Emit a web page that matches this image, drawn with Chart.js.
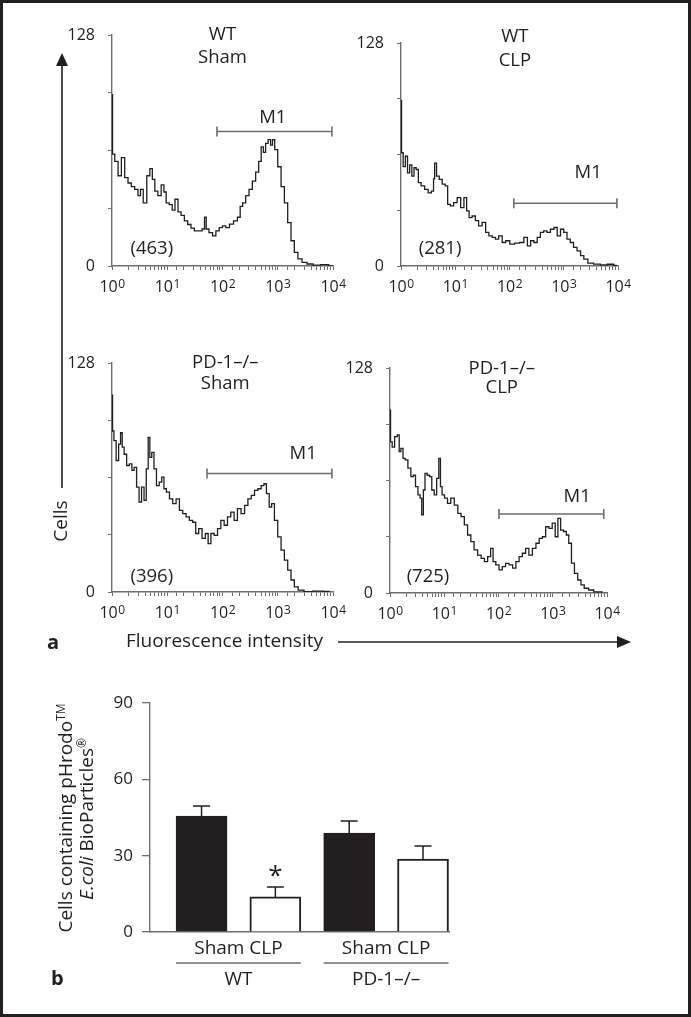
<!DOCTYPE html>
<html>
<head>
<meta charset="utf-8">
<script src="https://cdn.jsdelivr.net/npm/chart.js@4.4.1/dist/chart.umd.min.js"></script>
<style>
  body { margin: 0; background: #fff; font-family: "Open Sans", "Noto Sans", sans-serif; color: #231f20; }
  #frame { position: absolute; left: 0; top: 0; width: 691px; height: 1017px; border: 3px solid #231f20; box-sizing: border-box; }
  canvas { position: absolute; }
  .lbl { position: absolute; font-size: 19px; white-space: nowrap; line-height: 1; }
  .rot { transform: translate(-50%, -50%) rotate(-90deg); }
  .bold { font-weight: bold; font-size: 20px; }
  svg { position: absolute; left: 0; top: 0; }
</style>
</head>
<body>
<div id="frame"></div>
<canvas id="h1"></canvas>
<canvas id="h2"></canvas>
<canvas id="h3"></canvas>
<canvas id="h4"></canvas>
<canvas id="bars"></canvas>

<svg width="691" height="1017">
  <line x1="62" y1="64" x2="62" y2="488" stroke="#231f20" stroke-width="1.6"/>
  <polygon points="62,53 56,66 68,66" fill="#231f20"/>
  <line x1="338" y1="642" x2="620" y2="642" stroke="#231f20" stroke-width="1.6"/>
  <polygon points="631,642 617,636 617,648" fill="#231f20"/>
</svg>

<div class="lbl rot" style="left:60px; top:521px;">Cells</div>
<div class="lbl" style="left:126px; top:631px;">Fluorescence intensity</div>
<div class="lbl bold" style="left:47px; top:632px;">a</div>
<div class="lbl bold" style="left:51px; top:968px;">b</div>
<div class="lbl rot" style="left:65px; top:818px;">Cells containing pHrodo<sup style="font-size:12px">TM</sup></div>
<div class="lbl rot" style="left:86px; top:819px;"><i>E.coli</i> BioParticles<sup style="font-size:12px">®</sup></div>

<script>
// histogram values: [decade (log10 intensity), cells]
const wtSham = [[0,95],[0.02,62],[0.08,58],[0.14,50],[0.2,60],[0.26,49],[0.32,46],[0.38,44],[0.44,42.5],[0.5,39],[0.53,42.5],[0.6,35],[0.66,50],[0.71,54],[0.75,48],[0.8,41.5],[0.86,39],[0.92,45],[0.96,41],[1.0,35],[1.07,34],[1.11,31],[1.17,37],[1.22,30],[1.28,28],[1.34,25],[1.4,23],[1.46,21],[1.52,19.5],[1.6,19.5],[1.66,20.5],[1.69,27],[1.72,20.5],[1.79,18.5],[1.85,16.7],[1.91,19.5],[1.97,21.3],[2.03,22.2],[2.09,21.3],[2.16,23.2],[2.24,25],[2.3,27],[2.34,33],[2.39,35],[2.45,39],[2.51,42.5],[2.57,47],[2.63,52],[2.68,58],[2.72,66],[2.76,63],[2.8,68],[2.85,70],[2.89,67],[2.92,70],[2.97,64.5],[3.03,55],[3.09,44],[3.15,35],[3.21,24],[3.27,14],[3.33,7.6],[3.4,3.9],[3.48,2],[3.58,1.1],[3.7,0.5],[3.85,0.8],[4.0,0]];
const wtClp = [[0,95],[0.02,65],[0.06,57],[0.1,63],[0.14,53.5],[0.18,58],[0.22,51.6],[0.26,56.4],[0.3,55.4],[0.34,47.8],[0.4,46],[0.47,44],[0.53,42],[0.59,43],[0.61,50],[0.63,59],[0.68,51.6],[0.73,49.7],[0.79,47],[0.84,46],[0.88,35.4],[0.94,34.5],[1.0,36.4],[1.07,39.3],[1.13,33.5],[1.19,39.3],[1.23,31.6],[1.28,27.8],[1.34,28.7],[1.4,26],[1.46,23],[1.53,25],[1.59,19.3],[1.65,17.3],[1.71,16.4],[1.77,15.4],[1.83,17.3],[1.9,13.5],[1.96,14.5],[2.05,12.6],[2.14,13.1],[2.23,13.5],[2.3,16.4],[2.36,11.6],[2.42,14.5],[2.48,13.5],[2.54,16.4],[2.6,19.3],[2.66,20.2],[2.72,19.3],[2.79,21.1],[2.85,22.1],[2.91,17.3],[2.97,21.1],[3.03,19.3],[3.09,15.4],[3.15,13.5],[3.21,10.7],[3.28,8.7],[3.34,5.9],[3.4,4],[3.49,1.7],[3.61,1.1],[3.74,0.6],[3.86,1],[3.98,0.3]];
const pd1Sham = [[0,110],[0.02,90],[0.05,84.6],[0.1,73.5],[0.14,82.7],[0.17,89],[0.2,81],[0.24,77],[0.29,70.7],[0.34,71.6],[0.38,68],[0.42,69.7],[0.47,58.6],[0.51,50.3],[0.56,58.6],[0.6,51.2],[0.64,68.8],[0.67,86.4],[0.7,75.3],[0.74,78],[0.78,68.8],[0.83,59.5],[0.88,61.4],[0.92,64.2],[0.96,57.7],[1.01,55.8],[1.07,52],[1.13,49.4],[1.19,52],[1.25,45.6],[1.31,43.8],[1.37,42],[1.43,40],[1.49,39],[1.54,32.7],[1.6,35.4],[1.66,30],[1.72,32.7],[1.76,27],[1.82,32.7],[1.88,31.7],[1.94,35.4],[2.0,40],[2.06,37.3],[2.12,42],[2.18,44.7],[2.24,40],[2.3,46.6],[2.37,43.8],[2.43,48.4],[2.49,52],[2.55,54],[2.61,56.8],[2.67,57.7],[2.73,59.5],[2.77,60.5],[2.82,55],[2.87,47.5],[2.91,49.4],[2.97,40],[3.03,30.8],[3.09,23.4],[3.15,17.8],[3.21,12.2],[3.27,6.7],[3.33,2.9],[3.41,1.1],[3.54,0.2],[3.72,0.5],[3.94,0.3]];
const pd1Clp = [[0,104],[0.02,86],[0.06,83],[0.11,89],[0.16,90],[0.18,80.4],[0.22,82.3],[0.26,76.6],[0.3,75.7],[0.36,71],[0.41,66.2],[0.45,67],[0.49,60.5],[0.54,55.8],[0.57,54],[0.6,44.4],[0.63,58.6],[0.66,68],[0.71,67],[0.75,66.2],[0.79,58.6],[0.84,55.8],[0.88,65.2],[0.92,76.6],[0.94,60.5],[0.98,55.8],[1.03,54],[1.09,51],[1.15,54],[1.22,50],[1.28,45.3],[1.34,43.4],[1.4,38.7],[1.46,33],[1.52,29.2],[1.58,24.5],[1.65,21.6],[1.71,19.7],[1.77,17.8],[1.83,20.7],[1.88,25.4],[1.92,17.8],[1.98,16],[2.04,13.1],[2.1,15],[2.16,16.9],[2.23,16],[2.29,14.1],[2.35,17.8],[2.41,20.7],[2.47,22.6],[2.53,25.4],[2.59,21.6],[2.66,25.4],[2.72,28.3],[2.78,31.1],[2.84,32],[2.9,37.7],[2.96,36.8],[3.02,39.7],[3.07,32],[3.12,42.5],[3.17,35.8],[3.23,35],[3.27,33],[3.32,28.3],[3.37,17],[3.43,11.2],[3.49,7.4],[3.55,4.6],[3.61,2.7],[3.71,1.7],[3.8,0.6],[3.92,0.6]];

const decadeExps = ['0', '1', '2', '3', '4'];
const cellTicks = [0, 32, 64, 96, 128];
const counts = ['(463)', '(281)', '(396)', '(725)'];

// panel b
const barLabels = ['Sham', 'CLP', 'Sham', 'CLP'];
const barGroups = ['WT', 'PD-1–/–'];
const barValues = [45.6, 13.8, 38.9, 28.7];
const barErrors = [3.9, 3.9, 4.7, 5.1];
const barMarks = ['', '*', '', ''];
const barTicks = [0, 30, 60, 90];

const ink = '#231f20';
const axisGray = '#6d6e71';
const family = '"Open Sans", "Noto Sans", sans-serif';

function placeCanvas(cv, box, yw, xh, padTop, padRight) {
  const w = box.r - box.l + yw + padRight;
  const h = box.b - box.t + padTop + xh;
  cv.width = w; cv.height = h;
  cv.style.width = w + 'px'; cv.style.height = h + 'px';
  cv.style.left = (box.l - yw) + 'px';
  cv.style.top = (box.t - padTop) + 'px';
}

const histNotes = {
  id: 'histNotes',
  afterDatasetsDraw(chart, args, p) {
    const { ctx, chartArea: a, scales: { x, y } } = chart;
    ctx.save();
    ctx.fillStyle = ink;

    // decade labels 10^n with raised exponent
    decadeExps.forEach((e, n) => {
      const px = x.getPixelForValue(10 ** n);
      ctx.font = '16px ' + family;
      const wb = ctx.measureText('10').width;
      ctx.font = '12px ' + family;
      const we = ctx.measureText(e).width;
      const x0 = px - (wb + we) / 2;
      ctx.textAlign = 'left';
      ctx.textBaseline = 'alphabetic';
      ctx.font = '16px ' + family;
      ctx.fillText('10', x0, a.bottom + 25.5);
      ctx.font = '12px ' + family;
      ctx.fillText(e, x0 + wb + 0.5, a.bottom + 21.5);
    });

    ctx.font = '18.5px ' + family;
    ctx.textAlign = 'center';
    ctx.textBaseline = 'middle';
    const tx = x.getPixelForValue(10 ** p.titleAt);
    ctx.fillText(p.title[0], tx, a.top + p.titleDy[0]);
    ctx.fillText(p.title[1], tx, a.top + p.titleDy[1]);

    const g0 = x.getPixelForValue(10 ** p.gate[0]);
    const g1 = x.getPixelForValue(10 ** p.gate[1]);
    const gy = y.getPixelForValue(p.gate[2]);
    ctx.strokeStyle = axisGray;
    ctx.lineWidth = 1.6;
    ctx.beginPath();
    ctx.moveTo(g0, gy); ctx.lineTo(g1, gy);
    ctx.moveTo(g0, gy - 5); ctx.lineTo(g0, gy + 5);
    ctx.moveTo(g1, gy - 5); ctx.lineTo(g1, gy + 5);
    ctx.stroke();
    ctx.fillText('M1', x.getPixelForValue(10 ** p.m1[0]), y.getPixelForValue(p.m1[1]));
    ctx.fillText(p.count, x.getPixelForValue(10 ** p.countAt[0]), y.getPixelForValue(p.countAt[1]));
    ctx.restore();
  }
};

function histogram(id, values, box, notes) {
  const yw = 50, xh = 40, padTop = 25, padRight = 22;
  const cv = document.getElementById(id);
  placeCanvas(cv, box, yw, xh, padTop, padRight);
  new Chart(cv, {
    type: 'line',
    data: {
      datasets: [{
        data: values.map(v => ({ x: 10 ** v[0], y: v[1] })),
        borderColor: ink,
        borderWidth: 1.3,
        pointRadius: 0,
        stepped: 'middle',
        fill: false
      }]
    },
    options: {
      responsive: false,
      animation: false,
      layout: { padding: { top: padTop, right: padRight, left: 0, bottom: 0 } },
      plugins: { legend: { display: false }, tooltip: { enabled: false }, histNotes: notes },
      scales: {
        x: {
          type: 'logarithmic', min: 1, max: 10000,
          afterFit(s) { s.height = xh; },
          grid: { drawOnChartArea: false, tickLength: 4, color: axisGray, lineWidth: 1 },
          border: { color: axisGray, width: 1.4 },
          ticks: { display: false, autoSkip: false }
        },
        y: {
          min: 0, max: 128,
          afterBuildTicks(s) { s.ticks = cellTicks.map(v => ({ value: v })); },
          afterFit(s) { s.width = yw; },
          grid: { drawOnChartArea: false, tickLength: 4, color: axisGray },
          border: { color: axisGray, width: 1.4 },
          ticks: {
            padding: 13, color: ink, font: { family: family, size: 16 },
            callback(v) { return (v === 0 || v === 128) ? String(v) : ''; }
          }
        }
      }
    },
    plugins: [histNotes]
  });
}

histogram('h1', wtSham, { l: 112, t: 35, r: 333, b: 266 },
  { title: ['WT', 'Sham'], titleAt: 2.0, titleDy: [0, 23], gate: [1.9, 3.98, 74.5], m1: [2.91, 82], count: counts[0], countAt: [0.72, 9.4] });
histogram('h2', wtClp, { l: 401, t: 43, r: 618, b: 266 },
  { title: ['WT', 'CLP'], titleAt: 2.1, titleDy: [-6, 18], gate: [2.08, 3.98, 36], m1: [3.45, 53.7], count: counts[1], countAt: [0.72, 9.7] });
histogram('h3', pd1Sham, { l: 112, t: 363, r: 333, b: 592 },
  { title: ['PD-1–/–', 'Sham'], titleAt: 2.05, titleDy: [0, 21], gate: [1.72, 3.98, 66.2], m1: [3.46, 77.4], count: counts[2], countAt: [0.72, 8.3] });
histogram('h4', pd1Clp, { l: 390, t: 368, r: 607, b: 593 },
  { title: ['PD-1–/–', 'CLP'], titleAt: 2.06, titleDy: [1, 20], gate: [2.01, 3.94, 44.9], m1: [3.45, 54.6], count: counts[3], countAt: [0.7, 9.1] });

// === panel b ===
const barNotes = {
  id: 'barNotes',
  afterDatasetsDraw(chart) {
    const { ctx, chartArea: a, scales: { y } } = chart;
    const bars = chart.getDatasetMeta(0).data;
    ctx.save();
    ctx.strokeStyle = ink;
    ctx.lineWidth = 1.5;
    bars.forEach((b, i) => {
      const top = y.getPixelForValue(barValues[i]);
      const up = y.getPixelForValue(barValues[i] + barErrors[i]);
      ctx.beginPath();
      ctx.moveTo(b.x, top); ctx.lineTo(b.x, up);
      ctx.moveTo(b.x - 8.5, up); ctx.lineTo(b.x + 8.5, up);
      ctx.stroke();
      if (barMarks[i]) {
        ctx.fillStyle = ink;
        ctx.font = '26px ' + family;
        ctx.textAlign = 'center';
        ctx.textBaseline = 'middle';
        ctx.fillText(barMarks[i], b.x, up - 10);
      }
    });
    ctx.strokeStyle = axisGray;
    ctx.lineWidth = 1.3;
    ctx.fillStyle = ink;
    ctx.font = '19px ' + family;
    ctx.textAlign = 'center';
    ctx.textBaseline = 'middle';
    barGroups.forEach((g, k) => {
      const b0 = bars[2 * k], b1 = bars[2 * k + 1];
      const x0 = b0.x - b0.width / 2, x1 = b1.x + b1.width / 2;
      ctx.beginPath();
      ctx.moveTo(x0, a.bottom + 31); ctx.lineTo(x1, a.bottom + 31);
      ctx.stroke();
      ctx.fillText(g, (x0 + x1) / 2, a.bottom + 48);
    });
    ctx.restore();
  }
};

(function () {
  const yw = 100, xh = 70, padTop = 25, padRight = 20;
  const box = { l: 150, t: 703, r: 449, b: 932 };
  const cv = document.getElementById('bars');
  placeCanvas(cv, box, yw, xh, padTop, padRight);
  new Chart(cv, {
    type: 'bar',
    data: {
      datasets: [{
        data: barValues.map((v, i) => ({ x: i + 1, y: v })),
        backgroundColor: barLabels.map(l => l === 'Sham' ? ink : '#ffffff'),
        borderColor: ink,
        borderWidth: 2,
        barThickness: 51
      }]
    },
    options: {
      responsive: false,
      animation: false,
      layout: { padding: { top: padTop, right: padRight, left: 0, bottom: 0 } },
      plugins: { legend: { display: false }, tooltip: { enabled: false } },
      scales: {
        x: {
          type: 'linear', min: 0.302, max: 4.352, offset: false,
          afterBuildTicks(s) { s.ticks = barGroups.map((g, k) => ({ value: 2 * k + 1.5 })); },
          afterFit(s) { s.height = xh; },
          grid: { display: false, drawTicks: false },
          border: { color: axisGray, width: 1.4 },
          ticks: {
            padding: 5, maxRotation: 0, color: ink, font: { family: family, size: 19 },
            callback(v, i) { return barLabels[2 * i] + ' ' + barLabels[2 * i + 1]; }
          }
        },
        y: {
          min: 0, max: 90,
          afterBuildTicks(s) { s.ticks = barTicks.map(v => ({ value: v })); },
          afterFit(s) { s.width = yw; },
          grid: { drawOnChartArea: false, tickLength: 8, color: axisGray, lineWidth: 1.3 },
          border: { color: axisGray, width: 1.4 },
          ticks: { padding: 9, color: ink, font: { family: family, size: 17 } }
        }
      }
    },
    plugins: [barNotes]
  });
})();
</script>
</body>
</html>
